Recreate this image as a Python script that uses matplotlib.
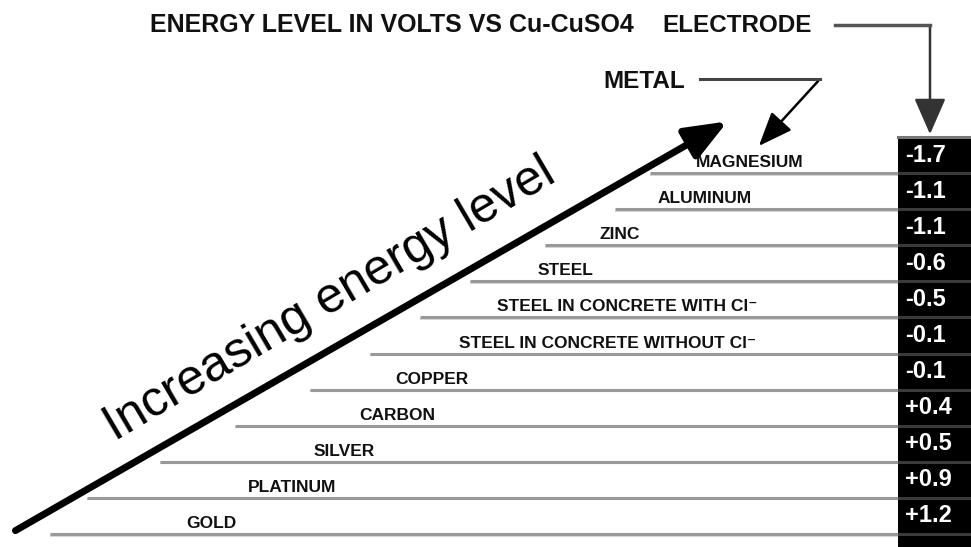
"""Galvanic series diagram: energy level of metals vs Cu-CuSO4 electrode."""

import matplotlib
matplotlib.use("Agg")
import matplotlib.pyplot as plt
from matplotlib.patches import FancyArrowPatch, Rectangle

# data
metals = [
    "MAGNESIUM",
    "ALUMINUM",
    "ZINC",
    "STEEL",
    "STEEL IN CONCRETE WITH Cl⁻",
    "STEEL IN CONCRETE WITHOUT Cl⁻",
    "COPPER",
    "CARBON",
    "SILVER",
    "PLATINUM",
    "GOLD",
]
volts = ["-1.7", "-1.1", "-1.1", "-0.6", "-0.5", "-0.1", "-0.1",
         "+0.4", "+0.5", "+0.9", "+1.2"]

# layout (pixel space of a 971x547 picture)
label_x = [750, 705, 620, 565, 627, 608, 432, 397, 344, 292, 211]
line_start_x = [650, 615, 545, 470, 420, 370, 310, 235, 160, 87, 50]
W, H = 971, 547
BOX_X = 898
ROW_TOP = 137
ROW_H = (534 - ROW_TOP) / len(metals)

FONT = ["Liberation Sans", "DejaVu Sans"]
plt.rcParams["font.family"] = FONT

fig = plt.figure(figsize=(W / 100, H / 100), dpi=100)
ax = fig.add_axes([0, 0, 1, 1])
ax.set_xlim(0, W)
ax.set_ylim(H, 0)
ax.axis("off")

# value column
ax.add_patch(Rectangle((BOX_X, ROW_TOP), W - BOX_X, H - ROW_TOP,
                       facecolor="black", edgecolor="none", zorder=1))
ax.plot([BOX_X, W], [ROW_TOP, ROW_TOP], color="#777777", lw=2.2, zorder=2)

for i, (name, v) in enumerate(zip(metals, volts)):
    y_line = ROW_TOP + (i + 1) * ROW_H
    y_mid = ROW_TOP + (i + 0.5) * ROW_H
    ax.plot([line_start_x[i], BOX_X], [y_line + 1.5, y_line + 1.5],
            color="#d8d8d8", lw=1.5, solid_capstyle="butt", zorder=2)
    ax.plot([line_start_x[i], BOX_X], [y_line, y_line],
            color="#999999", lw=2.2, solid_capstyle="butt", zorder=2)
    ax.plot([BOX_X, W], [y_line, y_line], color="#3a3a3a", lw=2.2,
            solid_capstyle="butt", zorder=2)
    ax.text(label_x[i], y_line - 6, name, ha="center", va="baseline",
            fontsize=12.5, fontweight="bold", color="#111111", zorder=3)
    ax.text(905, y_mid, v, ha="left", va="center", fontsize=17,
            fontweight="bold", color="white", zorder=3)

# big "increasing energy" arrow
ax.add_patch(FancyArrowPatch((13, 532), (730, 120),
                             arrowstyle="-|>,head_length=1.5,head_width=0.6",
                             mutation_scale=17, lw=5, color="black",
                             zorder=4))
ax.text(330, 300, "Increasing energy level", rotation=30.5,
        rotation_mode="anchor", ha="center", va="center",
        fontsize=36, color="black", zorder=4)

# header and connectors
ax.text(150, 25, "ENERGY LEVEL IN VOLTS VS Cu-CuSO4", ha="left",
        va="center", fontsize=18, fontweight="bold", color="#111111")
ax.text(662, 25, "ELECTRODE", ha="left", va="center", fontsize=17.5,
        fontweight="bold", color="#111111")
ax.plot([835, 930], [25, 25], color="#555555", lw=2.5)
ax.add_patch(FancyArrowPatch((930, 24), (930, 137),
                             arrowstyle="-|>,head_length=1.6,head_width=0.7",
                             mutation_scale=14, lw=1.8, color="#333333"))

ax.text(603, 82, "METAL", ha="left", va="center", fontsize=17.5,
        fontweight="bold", color="#111111")
ax.plot([700, 820], [79, 79], color="#444444", lw=2.2)
ax.add_patch(FancyArrowPatch((820, 79), (757, 148),
                             arrowstyle="-|>,head_length=1.5,head_width=0.6",
                             mutation_scale=14, lw=1.8, color="black"))

fig.savefig("out.png", dpi=100, facecolor="white")
